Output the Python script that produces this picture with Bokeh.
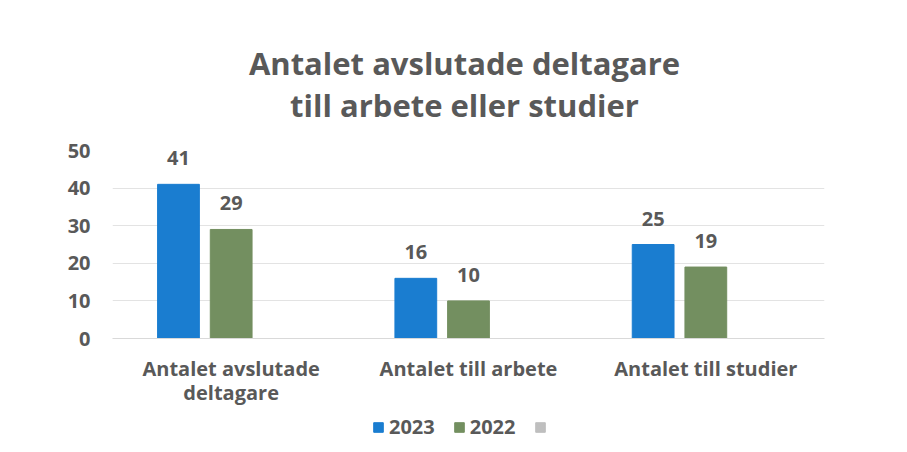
from bokeh.plotting import figure
from bokeh.models import (ColumnDataSource, FactorRange, Legend, LegendItem,
                          LabelSet, Range1d, FixedTicker)
from bokeh.core.properties import value
from bokeh.layouts import column
from bokeh.transform import dodge
from bokeh.embed import file_html
from bokeh.resources import INLINE

# ---- data ----
categories = ["Antalet avslutade\ndeltagare", "Antalet till arbete", "Antalet till studier"]
values_2023 = [41, 16, 25]
values_2022 = [29, 10, 19]
values_empty = [float("nan")] * 3
series_labels = ["2023", "2022", " "]
y_ticks = [0, 10, 20, 30, 40, 50]
title_lines = ["Antalet avslutade deltagare", "till arbete eller studier"]

BLUE = "#1a7dd0"
GREEN = "#738f60"
GREY = "#bfbfbf"
series_colors = [BLUE, GREEN, GREY]
TXT = "#595959"
FONT = "Open Sans"

# ---- title strip ----
TITLE_H = 136
p0 = figure(width=907, height=TITLE_H, x_range=Range1d(0, 1), y_range=Range1d(0, TITLE_H),
            output_backend="svg", toolbar_location=None, min_border=0)
p0.axis.visible = False
p0.grid.grid_line_color = None
p0.outline_line_color = None
p0.text(x=[0.5, 0.5], y=[TITLE_H - 62, TITLE_H - 104], text=title_lines,
        text_align="center", text_baseline="middle", x_offset=-4,
        text_font=value(FONT), text_font_size="31px", text_font_style="bold",
        text_color=TXT)

# ---- main chart ----
source = ColumnDataSource(data=dict(
    cat=categories,
    v2023=values_2023,
    v2022=values_2022,
    vnone=values_empty,
    l2023=[str(v) for v in values_2023],
    l2022=[str(v) for v in values_2022],
))

p = figure(width=907, height=272, x_range=FactorRange(*categories),
           y_range=Range1d(0, 50), output_backend="svg", toolbar_location=None,
           min_border_left=112, min_border_right=83, min_border_top=14,
           min_border_bottom=70)

off = 0.222
bw = 0.176
r1 = p.vbar(x=dodge("cat", -off, range=p.x_range), top="v2023", width=bw,
            source=source, color=series_colors[0])
r2 = p.vbar(x=dodge("cat", 0.0, range=p.x_range), top="v2022", width=bw,
            source=source, color=series_colors[1])
r3 = p.vbar(x=dodge("cat", off, range=p.x_range), top="vnone", width=bw,
            source=source, color=series_colors[2])

for xoff, col in [(-off, "v2023"), (0.0, "v2022")]:
    lab = LabelSet(x=dodge("cat", xoff, range=p.x_range), y=col,
                   text=col.replace("v", "l"), source=source,
                   text_align="center", text_baseline="bottom", y_offset=19,
                   text_font=value(FONT), text_font_style="bold",
                   text_font_size="20px", text_color=TXT)
    p.add_layout(lab)

# axes
p.yaxis.ticker = FixedTicker(ticks=y_ticks)
p.yaxis.axis_line_color = None
p.yaxis.major_tick_line_color = None
p.yaxis.minor_tick_line_color = None
p.yaxis.major_label_text_font = FONT
p.yaxis.major_label_text_font_style = "bold"
p.yaxis.major_label_text_font_size = "20px"
p.yaxis.major_label_text_color = TXT
p.yaxis.major_label_standoff = 16

p.xaxis.axis_line_color = "#d9d9d9"
p.xaxis.major_tick_line_color = None
p.xaxis.minor_tick_line_color = None
p.xaxis.major_label_text_font = FONT
p.xaxis.major_label_text_font_style = "bold"
p.xaxis.major_label_text_font_size = "20px"
p.xaxis.major_label_text_color = TXT
p.xaxis.major_label_text_line_height = 0.9
p.xaxis.major_label_standoff = 10

p.xgrid.grid_line_color = None
p.ygrid.grid_line_color = "#e3e3e3"
p.outline_line_color = None
p.x_range.range_padding = 0.0

# ---- legend strip ----
p2 = figure(width=907, height=44, x_range=Range1d(0, 1), y_range=Range1d(0, 1),
            output_backend="svg", toolbar_location=None, min_border=0)
p2.axis.visible = False
p2.grid.grid_line_color = None
p2.outline_line_color = None
lr = []
for c in series_colors:
    lr.append(p2.vbar(x=[float("nan")], top=[float("nan")], width=0.1, color=c))

legend = Legend(items=[LegendItem(label=lab, renderers=[r]) for lab, r in zip(series_labels, lr)],
                orientation="horizontal", location=(260, 12),
                label_text_font=FONT, label_text_font_style="bold",
                label_text_font_size="20px", label_text_color=TXT,
                glyph_width=12, glyph_height=12, spacing=18,
                label_standoff=5, border_line_color=None,
                background_fill_alpha=0, margin=0, padding=2)
p2.add_layout(legend, "center")

layout = column(p0, p, p2, spacing=0)
open("out.html", "w").write(file_html(layout, INLINE))
